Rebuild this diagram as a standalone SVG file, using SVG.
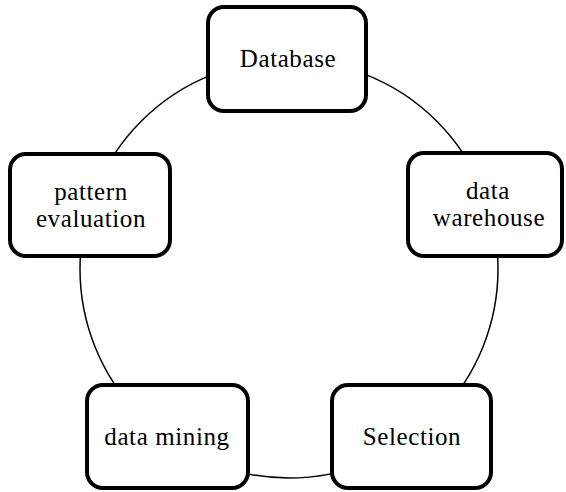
<svg xmlns="http://www.w3.org/2000/svg" width="566" height="492" viewBox="0 0 566 492">
  <style>
    .box { fill: #ffffff; stroke: #000000; stroke-width: 4; }
    .lbl { font-family: "Liberation Serif", "Times New Roman", serif; font-size: 25px; letter-spacing: 0.6px; fill: #000000; text-anchor: middle; }
    .conn { fill: none; stroke: #000000; stroke-width: 1.5; }
  </style>
  <rect width="566" height="492" fill="#ffffff"/>
  <g id="connectors">
    <circle class="conn" cx="289" cy="269" r="209"/>
  </g>
  <g id="database">
    <rect class="box" x="208" y="7" width="158" height="104" rx="16"/>
    <text class="lbl" x="288" y="67">Database</text>
  </g>
  <g id="data-warehouse">
    <rect class="box" x="408" y="153" width="154" height="103" rx="16"/>
    <text class="lbl" x="488" y="199">data</text>
    <text class="lbl" x="489" y="226">warehouse</text>
  </g>
  <g id="pattern-evaluation">
    <rect class="box" x="10" y="154" width="160" height="102" rx="16"/>
    <text class="lbl" x="91" y="200">pattern</text>
    <text class="lbl" x="91" y="227">evaluation</text>
  </g>
  <g id="data-mining">
    <rect class="box" x="87" y="385" width="161" height="103" rx="16"/>
    <text class="lbl" x="167" y="445">data mining</text>
  </g>
  <g id="selection">
    <rect class="box" x="332" y="385" width="159" height="103" rx="16"/>
    <text class="lbl" x="412" y="445">Selection</text>
  </g>
</svg>
